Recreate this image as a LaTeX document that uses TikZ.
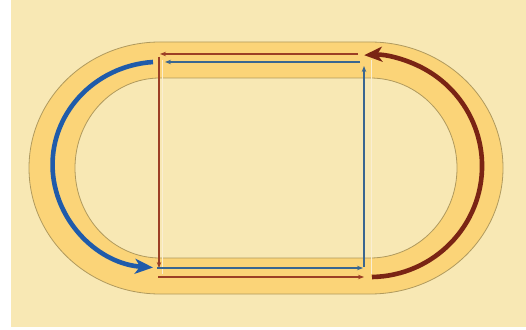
\documentclass[tikz,border=0pt]{standalone}
\usepackage{tikz}
\usepackage{xcolor}
\usetikzlibrary{arrows.meta}
\definecolor{cPaper}    {HTML}{F8E8B4}
\definecolor{cTrack}    {HTML}{FBD478}
\definecolor{cEdge}     {HTML}{B09A5E}
\definecolor{cSeam}     {HTML}{FAEED2}
\definecolor{cBlueArc}  {HTML}{1F5BAA}
\definecolor{cRedArc}   {HTML}{7A2414}
\definecolor{cBlueLine} {HTML}{3A6690}
\definecolor{cRedLine}  {HTML}{9C3F25}

\begin{document}
\begin{tikzpicture}[x=1pt, y=1pt,
    thinarrow/.style={-{Stealth[length=6pt, width=4.5pt]}, line width=1.3pt},
    thickarrow/.style={-{Stealth[length=18pt, width=15pt, inset=5pt]}, line width=4.6pt}]
  \useasboundingbox (0, 0) rectangle (526, 329);
  \fill[white] (0, 0) rectangle (526, 329);
  \fill[cPaper] (11, 2) rectangle (526, 329);
  \fill[cTrack, even odd rule]
      (160, 287) -- (370, 287) arc[start angle=90, end angle=-90, x radius=133, y radius=126]
      -- (160, 35) arc[start angle=270, end angle=90, x radius=131, y radius=126] -- cycle
      (160, 251) -- (370, 251) arc[start angle=90, end angle=-90, x radius=87, y radius=90]
      -- (160, 71) arc[start angle=270, end angle=90, x radius=85, y radius=90] -- cycle;
  \draw[cEdge, line width=0.8pt]
      (160, 287) -- (370, 287) arc[start angle=90, end angle=-90, x radius=133, y radius=126]
      -- (160, 35) arc[start angle=270, end angle=90, x radius=131, y radius=126] -- cycle;
  \draw[cEdge, line width=0.8pt]
      (160, 251) -- (370, 251) arc[start angle=90, end angle=-90, x radius=87, y radius=90]
      -- (160, 71) arc[start angle=270, end angle=90, x radius=85, y radius=90] -- cycle;
  \draw[cSeam, line width=1pt] (162, 269) -- (162, 55);
  \draw[cSeam, line width=1pt] (371, 269) -- (371, 55);

  \coordinate (redTopR)     at (358, 275);
  \coordinate (redTopL)     at (160, 275);
  \coordinate (redLeftT)    at (159, 272);
  \coordinate (redLeftB)    at (159, 61);
  \coordinate (redBotL)     at (158, 52);
  \coordinate (redBotR)     at (364, 52);
  \coordinate (redArcS)     at (372, 52);
  \coordinate (blueTopR)    at (360, 267);
  \coordinate (blueTopL)    at (165, 267);
  \coordinate (blueArcS)    at (153, 267);
  \coordinate (blueBotL)    at (157, 61);
  \coordinate (blueBotR)    at (363, 61);
  \coordinate (blueRightB)  at (364, 62);
  \coordinate (blueRightT)  at (364, 263);

  \draw[thinarrow, cRedLine] (redTopR) -- (redTopL);
  \draw[thinarrow, cRedLine] (redLeftT) -- (redLeftB);
  \draw[thinarrow, cRedLine] (redBotL) -- (redBotR);
  \draw[thinarrow, cBlueLine] (blueTopR) -- (blueTopL);
  \draw[thinarrow, cBlueLine] (blueBotL) -- (blueBotR);
  \draw[thinarrow, cBlueLine] (blueRightB) -- (blueRightT);

  \draw[thickarrow, cBlueArc] (blueArcS)
      arc[start angle=94, end angle=266, x radius=108, y radius=103];
  \draw[thickarrow, cRedArc] (redArcS)
      arc[start angle=-89, end angle=93, x radius=112, y radius=111];
\end{tikzpicture}
\end{document}
